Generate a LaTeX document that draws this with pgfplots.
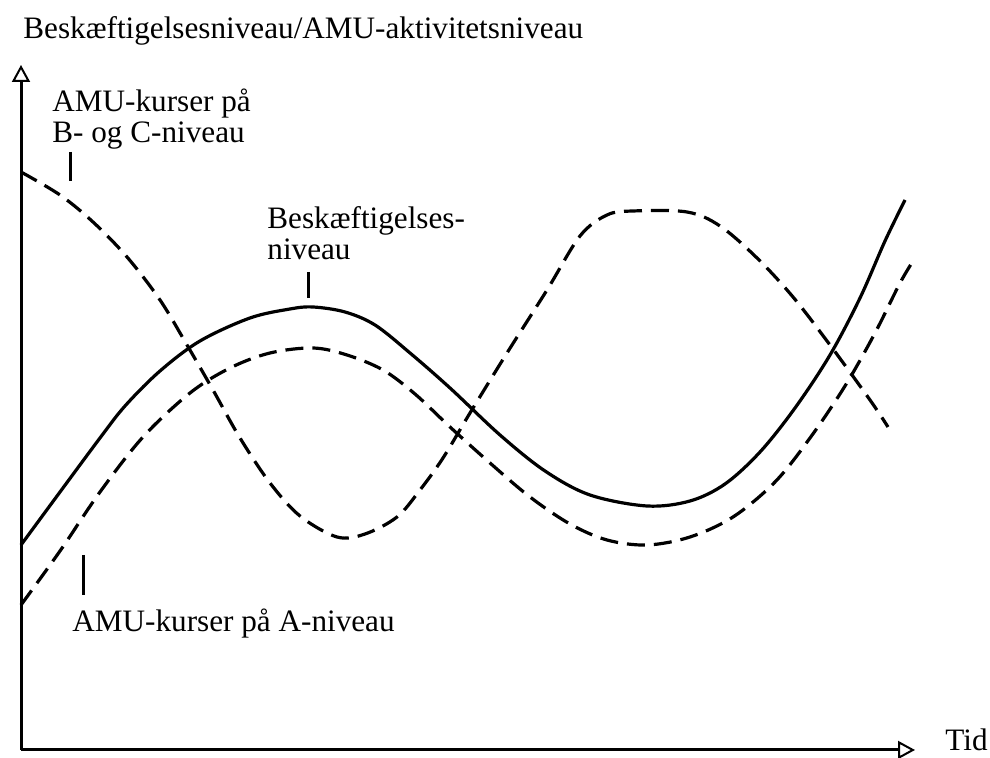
\documentclass[border=0pt]{standalone}
\usepackage{fontspec}
\setmainfont{Liberation Serif}
\usepackage{pgfplots}
\pgfplotsset{compat=1.18}
\usetikzlibrary{arrows.meta}

\pgfplotstableread{
x y
21 213
60 266
100 320
125 352
160 387
200 417
250 440
290 449
313 451
345 446
375 433
410 405
450 370
500 323
545 287
590 263
647 252
690 257
725 274
760 306
795 350
830 403
860 460
885 517
905 558
}\solid

\pgfplotstableread{
x y
21 153
60 207
100 266
143 321
190 365
230 390
270 405
313 410
347 403
383 388
415 364
450 331
490 295
530 261
570 234
607 218
647 213
690 221
733 241
775 276
810 320
845 372
875 425
900 475
915 500
}\alevel

\pgfplotstableread{
x y
21 586
60 563
93 536
127 501
160 458
187 413
213 368
240 320
270 275
300 242
337 221
365 224
397 241
420 268
443 300
470 345
507 405
547 468
580 522
607 543
633 547
687 546
720 532
757 500
793 461
830 413
870 358
888 331
}\bclevel

\newcommand{\lbl}{\fontsize{15.6}{16}\selectfont}

\begin{document}
\begin{tikzpicture}
\useasboundingbox (-10.5pt,-4pt) rectangle (484.5pt,375pt);
\begin{axis}[
  at={(0,0)}, anchor=south west,
  x=0.5pt, y=0.5pt,
  xmin=21, xmax=915, ymin=8, ymax=693,
  axis lines=left,
  axis line style={line width=1.5pt, -{Triangle[open, length=8.5pt, width=9pt, line width=1pt]}},
  ticks=none,
  clip=false,
]
\addplot[line width=1.6pt, smooth, tension=0.55] table[x=x,y=y] {\solid};
\addplot[line width=1.6pt, smooth, tension=0.55, dash pattern=on 9pt off 4.5pt] table[x=x,y=y] {\alevel};
\addplot[line width=1.6pt, smooth, tension=0.55, dash pattern=on 9pt off 4.5pt] table[x=x,y=y] {\bclevel};
% leader lines
\addplot[line width=1.5pt] coordinates {(70,606) (70,577)};
\addplot[line width=1.5pt] coordinates {(308,486) (308,460)};
\addplot[line width=1.5pt] coordinates {(83,203) (83,163)};
% labels
\node[anchor=base west, inner sep=0pt, font=\lbl] at (axis cs:23,719) {Beskæftigelsesniveau/AMU-aktivitetsniveau};
\node[anchor=base west, inner sep=0pt, font=\lbl] at (axis cs:52,646) {AMU-kurser på};
\node[anchor=base west, inner sep=0pt, font=\lbl] at (axis cs:52,615) {B- og C-niveau};
\node[anchor=base west, inner sep=0pt, font=\lbl] at (axis cs:267,529) {Beskæftigelses-};
\node[anchor=base west, inner sep=0pt, font=\lbl] at (axis cs:267,498) {niveau};
\node[anchor=base west, inner sep=0pt, font=\lbl] at (axis cs:72,126) {AMU-kurser på A-niveau};
\node[anchor=base west, inner sep=0pt, font=\lbl] at (axis cs:945,7) {Tid};
\end{axis}
\end{tikzpicture}
\end{document}
